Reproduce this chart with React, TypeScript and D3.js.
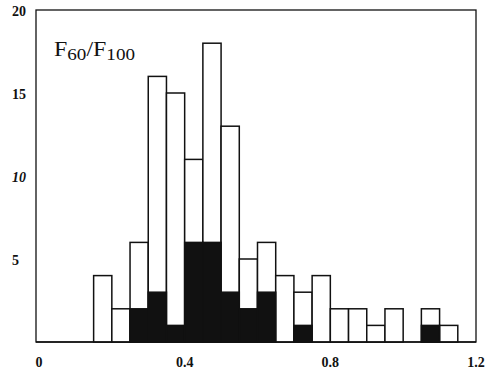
import React, { useEffect, useRef } from 'react';
import * as d3 from 'd3';

// bin starts (width 0.05), total counts and the dark subset
const binStarts = [0.15, 0.2, 0.25, 0.3, 0.35, 0.4, 0.45, 0.5, 0.55, 0.6, 0.65, 0.7, 0.75, 0.8, 0.85, 0.9, 0.95, 1.0, 1.05, 1.1];
const totals = [4, 2, 6, 16, 15, 11, 18, 13, 5, 6, 4, 3, 4, 2, 2, 1, 2, 0, 2, 1];
const darkCounts = [0, 0, 2, 3, 1, 6, 6, 3, 2, 3, 0, 1, 0, 0, 0, 0, 0, 0, 1, 0];
const xTicks = [0, 0.4, 0.8, 1.2];
const yTicks = [5, 10, 15, 20];
const binWidth = 0.05;

const App: React.FC = () => {
  const svgRef = useRef<SVGSVGElement>(null);

  useEffect(() => {
    if (!svgRef.current) return;
    const svg = d3.select(svgRef.current);
    svg.selectAll('*').remove();

    const frame = { left: 36, right: 476, top: 10, bottom: 342 };
    const x = d3.scaleLinear().domain([0, 1.2]).range([39, 476]);
    const y = d3.scaleLinear().domain([0, 20]).range([frame.bottom, frame.top]);

    const font = '"Liberation Serif", "DejaVu Serif", serif';

    // baseline
    svg.append('line')
      .attr('x1', frame.left).attr('x2', frame.right)
      .attr('y1', frame.bottom).attr('y2', frame.bottom)
      .attr('stroke', '#111').attr('stroke-width', 1.5);

    // white bars (totals)
    svg.selectAll('.tot')
      .data(binStarts.map((s, i) => ({ s, v: totals[i] })).filter(d => d.v > 0))
      .enter()
      .append('rect')
      .attr('class', 'tot')
      .attr('x', d => x(d.s))
      .attr('width', d => x(d.s + binWidth) - x(d.s))
      .attr('y', d => y(d.v))
      .attr('height', d => y(0) - y(d.v))
      .attr('fill', 'white')
      .attr('stroke', '#111')
      .attr('stroke-width', 1.5);

    // dark subset
    svg.selectAll('.dark')
      .data(binStarts.map((s, i) => ({ s, v: darkCounts[i] })).filter(d => d.v > 0))
      .enter()
      .append('rect')
      .attr('class', 'dark')
      .attr('x', d => x(d.s))
      .attr('width', d => x(d.s + binWidth) - x(d.s))
      .attr('y', d => y(d.v))
      .attr('height', d => y(0) - y(d.v))
      .attr('fill', '#111')
      .attr('stroke', '#111')
      .attr('stroke-width', 1.5);

    // frame
    svg.append('rect')
      .attr('x', frame.left).attr('y', frame.top)
      .attr('width', frame.right - frame.left)
      .attr('height', frame.bottom - frame.top)
      .attr('fill', 'none')
      .attr('stroke', '#111')
      .attr('stroke-width', 1.3);

    // y labels
    svg.selectAll('.ylab')
      .data(yTicks)
      .enter()
      .append('text')
      .attr('x', 12)
      .attr('y', d => y(d) + 6)
      .attr('text-anchor', 'start')
      .style('font-family', font)
      .style('font-size', '14px')
      .style('font-weight', 'bold')
      .style('font-style', d => (d === 10 ? 'italic' : 'normal'))
      .attr('fill', '#111')
      .text(d => String(d));

    // x labels
    svg.selectAll('.xlab')
      .data(xTicks)
      .enter()
      .append('text')
      .attr('x', d => x(d))
      .attr('y', 367)
      .attr('text-anchor', 'middle')
      .style('font-family', font)
      .style('font-size', '14px')
      .style('font-weight', 'bold')
      .attr('fill', '#111')
      .text(d => (d === 0 ? '0' : String(d)));

    // panel label F60/F100
    const lab = svg.append('text')
      .attr('x', 54)
      .attr('y', 56)
      .attr('textLength', 81)
      .attr('lengthAdjust', 'spacingAndGlyphs')
      .style('font-family', font)
      .style('font-size', '20px')
      .attr('fill', '#111');
    lab.append('tspan').text('F');
    lab.append('tspan').attr('dy', 4).style('font-size', '16px').text('60');
    lab.append('tspan').attr('dy', -4).text('/F');
    lab.append('tspan').attr('dy', 4).style('font-size', '16px').text('100');
  }, []);

  return (
    <svg
      ref={svgRef}
      width={489}
      height={375}
      style={{ position: 'absolute', left: 0, top: 0, background: 'white' }}
    />
  );
};

export default App;
